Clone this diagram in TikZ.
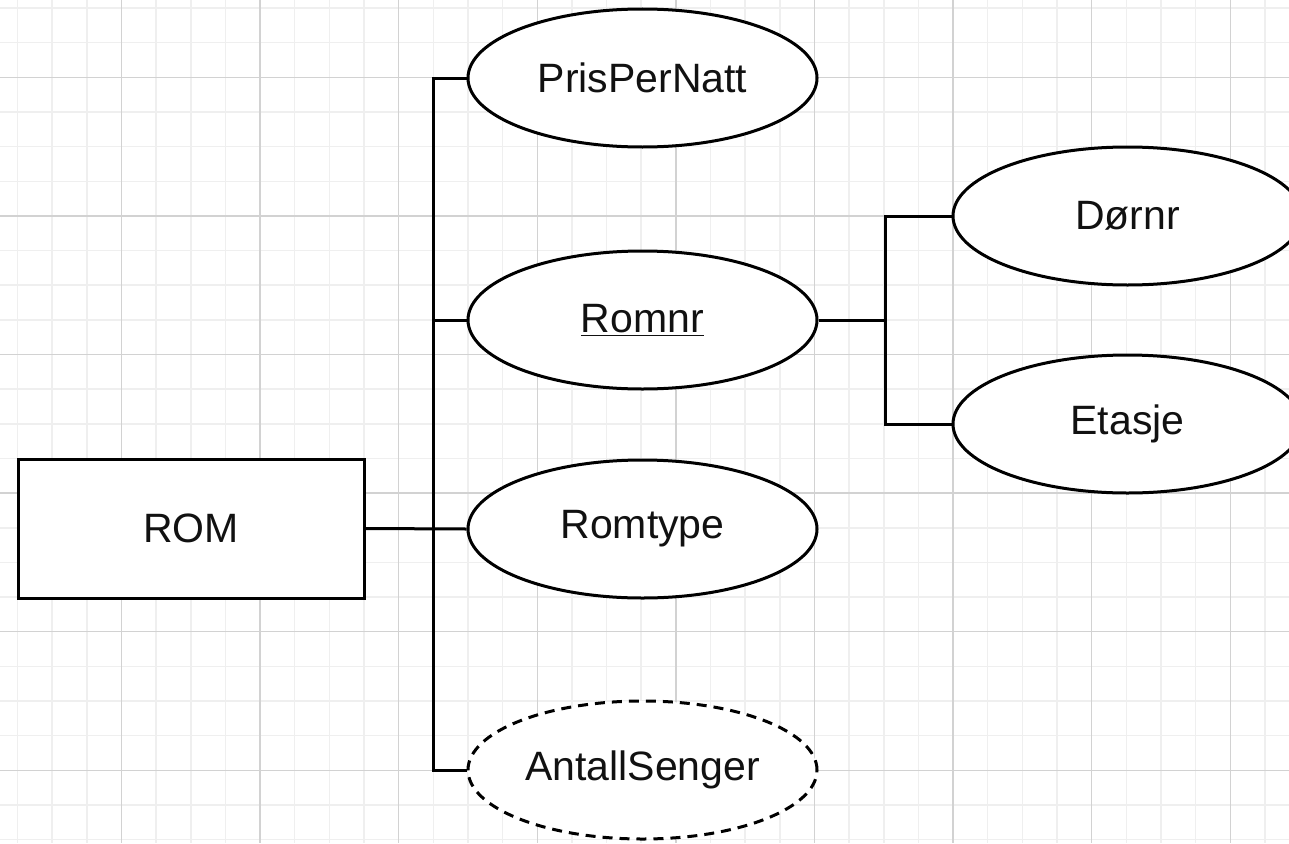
\documentclass[tikz,border=0pt]{standalone}
\usepackage{fontspec}
\setmainfont{Liberation Sans}
\usetikzlibrary{shapes.geometric}
\definecolor{gridminor}{HTML}{EFEFEF}
\definecolor{gridmajor}{HTML}{D2D2D2}
\definecolor{ink}{HTML}{111111}
\tikzset{
  attr/.style={ellipse, draw=black, line width=3pt, fill=white, minimum width=349pt, minimum height=138pt, inner sep=0pt, text=ink, font=\fontsize{41}{48}\selectfont},
  entity/.style={rectangle, draw=black, line width=3pt, fill=white, minimum width=346pt, minimum height=139pt, inner sep=0pt, text=ink, font=\fontsize{41}{48}\selectfont},
  conn/.style={draw=black, line width=3pt},
  weak/.style={dashed, dash pattern=on 10pt off 7pt},
  gminor/.style={draw=gridminor, line width=1.5pt},
  gmajor/.style={draw=gridmajor, line width=1.5pt}
}
\begin{document}
\begin{tikzpicture}[x=1pt,y=-1pt]
\useasboundingbox (0,0) rectangle (1289,843);
\clip (0,0) rectangle (1289,843);
\fill[white] (0,0) rectangle (1289,843);
% grid
\foreach \i in {0,...,37} {
  \draw[gminor] ({17.5+34.65*\i},0) -- ({17.5+34.65*\i},843);
}
\foreach \i in {0,...,24} {
  \draw[gminor] (0,{8+34.65*\i}) -- (1289,{8+34.65*\i});
}
\foreach \i in {0,...,9} {
  \draw[gmajor] ({121.5+138.6*\i},0) -- ({121.5+138.6*\i},843);
}
\foreach \i in {0,...,5} {
  \draw[gmajor] (0,{77.3+138.6*\i}) -- (1289,{77.3+138.6*\i});
}
% nodes
\node[entity] (rom) at (191,528.5) {ROM};
\node[attr] (pris) at (642.5,78) {PrisPerNatt};
\node[attr] (romnr) at (642.5,320) {\underline{Romnr}};
\node[attr] (romtype) at (642.5,529) {Romtype};
\node[attr, weak] (antall) at (642.5,770) {AntallSenger};
\node[attr] (dornr) at (1127.5,216) {Dørnr};
\node[attr] (etasje) at (1127.5,424) {Etasje};
\coordinate (spine) at (433,0);
\coordinate (spineb) at (885,0);
% connectors
\draw[conn] (pris.west) -- (pris.west -| spine) -- (antall.west -| spine) -- (antall.west);
\draw[conn] (romnr.west) -- (romnr.west -| spine);
\draw[conn] (rom.east) -- (romtype.west);
\draw[conn] (romnr.east) -- (romnr.east -| spineb);
\draw[conn] (dornr.west) -- (dornr.west -| spineb) -- (etasje.west -| spineb) -- (etasje.west);
\end{tikzpicture}
\end{document}
